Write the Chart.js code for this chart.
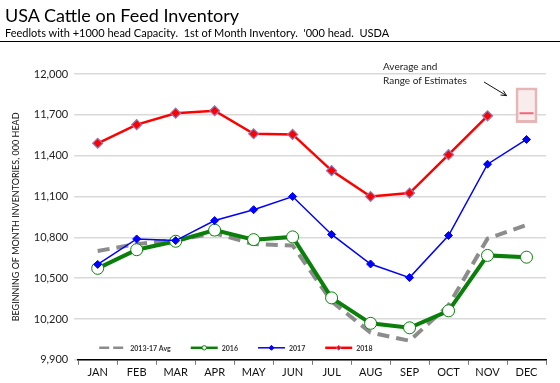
<!DOCTYPE html>
<html>
<head>
<meta charset="utf-8">
<script src="https://cdn.jsdelivr.net/npm/chart.js@4"></script>
<style>
    html, body { margin: 0; padding: 0; background: #fff; }
    #wrap { position: relative; width: 560px; height: 383px; }
    #head { position: absolute; left: 0; top: 0; width: 560px; height: 41px; border-bottom: 1.5px solid #000; z-index: 2; font-family: Lato, "Open Sans", sans-serif; color: #000; }
    #head h1 { margin: 0; position: absolute; left: 5px; top: 4px; font-size: 18px; font-weight: normal; }
    #head p { margin: 0; position: absolute; left: 5px; top: 26px; font-size: 11px; }
    #box { position: absolute; left: 0; top: 0; width: 560px; height: 383px; }
</style>
</head>
<body>
<div id="wrap">
    <div id="head">
        <h1>USA Cattle on Feed Inventory</h1>
        <p>Feedlots with +1000 head Capacity.&nbsp; 1st of Month Inventory.&nbsp; '000 head.&nbsp; USDA</p>
    </div>
    <div id="box"><canvas id="chart"></canvas></div>
</div>
<script>
    const months = ["JAN", "FEB", "MAR", "APR", "MAY", "JUN", "JUL", "AUG", "SEP", "OCT", "NOV", "DEC"];

    const avg1317 = [10700, 10750, 10780, 10830, 10750, 10740, 10330, 10100, 10040, 10300, 10790, 10890];
    const y2016 = [10572, 10709, 10771, 10853, 10783, 10803, 10355, 10168, 10135, 10260, 10667, 10654];
    const y2017 = [10601, 10788, 10776, 10923, 11003, 11100, 10821, 10604, 10504, 10813, 11337, 11519];
    const y2018 = [11491, 11628, 11712, 11730, 11561, 11556, 11290, 11100, 11125, 11407, 11693, null];

    // Dec estimate: low/high range and average
    const estRange = [null, null, null, null, null, null, null, null, null, null, null, [11640, 11900]];
    const estAvg = [null, null, null, null, null, null, null, null, null, null, null, 11712];

    const yMin = 9900;
    const yMax = 12000;
    const yStep = 300;

    const fontFace = "Lato, 'Noto Sans', sans-serif";

    const extras = {
        id: "extras",
        afterDraw(chart) {
            const ctx = chart.ctx;
            const a = chart.chartArea;
            const xs = chart.scales.x;
            const ys = chart.scales.y;

            ctx.save();

            // note + arrow
            ctx.fillStyle = "#222";
            ctx.font = "10px " + fontFace;
            ctx.textAlign = "left";
            ctx.textBaseline = "alphabetic";
            ctx.fillText("Average and", 383, 70);
            ctx.fillText("Range of Estimates", 383, 84);

            const bx = xs.getPixelForValue(11);
            const by = ys.getPixelForValue(11900);
            const ex = bx - 20, ey = by + 8;
            ctx.strokeStyle = "#111";
            ctx.lineWidth = 1;
            ctx.beginPath();
            ctx.moveTo(484, 82);
            ctx.lineTo(ex, ey);
            ctx.stroke();
            const ang = Math.atan2(ey - 82, ex - 484);
            ctx.beginPath();
            ctx.moveTo(ex - 6 * Math.cos(ang - 0.45), ey - 6 * Math.sin(ang - 0.45));
            ctx.lineTo(ex, ey);
            ctx.lineTo(ex - 6 * Math.cos(ang + 0.45), ey - 6 * Math.sin(ang + 0.45));
            ctx.stroke();

            // legend inside the plot area
            const ly = a.bottom - 12;
            let lx = a.left + 21;
            ctx.font = "bold 7px " + fontFace;
            ctx.textBaseline = "middle";
            chart.data.datasets.forEach(ds => {
                if (!ds.inLegend) return;
                const len = 27;
                ctx.strokeStyle = ds.borderColor;
                ctx.lineWidth = Math.min(ds.borderWidth, 2.5);
                ctx.setLineDash(ds.borderDash ? [10, 4] : []);
                ctx.beginPath();
                ctx.moveTo(lx, ly);
                ctx.lineTo(lx + len, ly);
                ctx.stroke();
                ctx.setLineDash([]);
                if (ds.pointRadius > 0) {
                    const cx = lx + len / 2;
                    ctx.fillStyle = ds.pointBackgroundColor;
                    ctx.strokeStyle = ds.pointBorderColor;
                    ctx.lineWidth = 1;
                    ctx.beginPath();
                    if (ds.pointStyle === "circle") {
                        ctx.arc(cx, ly, 2.2, 0, Math.PI * 2);
                    } else {
                        ctx.moveTo(cx, ly - 2.5);
                        ctx.lineTo(cx + 2.5, ly);
                        ctx.lineTo(cx, ly + 2.5);
                        ctx.lineTo(cx - 2.5, ly);
                        ctx.closePath();
                    }
                    ctx.fill();
                    ctx.stroke();
                }
                ctx.fillStyle = "#333";
                ctx.fillText(ds.label, lx + len + 4, ly + 0.5);
                lx += len + 4 + ctx.measureText(ds.label).width + 20;
            });

            ctx.restore();
        }
    };

    new Chart(document.getElementById("chart"), {
        type: "line",
        data: {
            labels: months,
            datasets: [
                {
                    label: "2013-17 Avg",
                    inLegend: true,
                    data: avg1317,
                    borderColor: "rgba(128,128,128,0.9)",
                    borderWidth: 4,
                    borderDash: [12, 7],
                    pointRadius: 0,
                    order: 5
                },
                {
                    label: "2016",
                    inLegend: true,
                    data: y2016,
                    borderColor: "#0a800a",
                    borderWidth: 4,
                    pointStyle: "circle",
                    pointRadius: 6,
                    pointBackgroundColor: "#fff",
                    pointBorderColor: "#0a800a",
                    pointBorderWidth: 1,
                    order: 4
                },
                {
                    label: "2017",
                    inLegend: true,
                    data: y2017,
                    borderColor: "#0000ff",
                    borderWidth: 1.5,
                    pointStyle: "rectRot",
                    pointRadius: 4,
                    pointBackgroundColor: "#0000ff",
                    pointBorderColor: "#0000ff",
                    pointBorderWidth: 1,
                    order: 3
                },
                {
                    label: "2018",
                    inLegend: true,
                    data: y2018,
                    borderColor: "#ff0000",
                    borderWidth: 2.5,
                    pointStyle: "rectRot",
                    pointRadius: 5,
                    pointBackgroundColor: "#ff0000",
                    pointBorderColor: "#8f78b8",
                    pointBorderWidth: 1.2,
                    order: 2
                },
                {
                    type: "bar",
                    label: "Range",
                    data: estRange,
                    backgroundColor: "#f9eced",
                    borderColor: "#e6b6b6",
                    borderWidth: 3,
                    borderSkipped: false,
                    categoryPercentage: 1,
                    barPercentage: 0.56,
                    order: 6
                },
                {
                    label: "Average",
                    data: estAvg,
                    showLine: false,
                    pointStyle: "line",
                    pointRadius: 7,
                    borderColor: "#f0637a",
                    borderWidth: 2,
                    order: 1
                }
            ]
        },
        options: {
            responsive: true,
            maintainAspectRatio: false,
            animation: false,
            layout: { padding: { top: 74, left: 11, right: 14, bottom: 3 } },
            plugins: {
                legend: { display: false },
                tooltip: { enabled: false }
            },
            scales: {
                x: {
                    offset: true,
                    grid: { offset: true, drawOnChartArea: false, drawTicks: true, tickLength: 5, color: "#777" },
                    border: { display: true, color: "#000", width: 1.5 },
                    ticks: { color: "#111", font: { family: fontFace, size: 11 }, padding: 1 }
                },
                y: {
                    min: yMin,
                    max: yMax,
                    grid: { color: "#d9d9d9", lineWidth: 1.5, tickLength: 4 },
                    border: { display: false },
                    ticks: {
                        stepSize: yStep,
                        color: "#222",
                        font: { family: fontFace, size: 11 },
                        padding: 6,
                        callback: v => v.toLocaleString("en-US")
                    },
                    title: {
                        display: true,
                        text: "BEGINNING OF MONTH INVENTORIES, 000 HEAD",
                        color: "#111",
                        font: { family: fontFace, size: 9 },
                        padding: { top: 0, bottom: 6 }
                    }
                }
            }
        },
        plugins: [extras]
    });
</script>
</body>
</html>
